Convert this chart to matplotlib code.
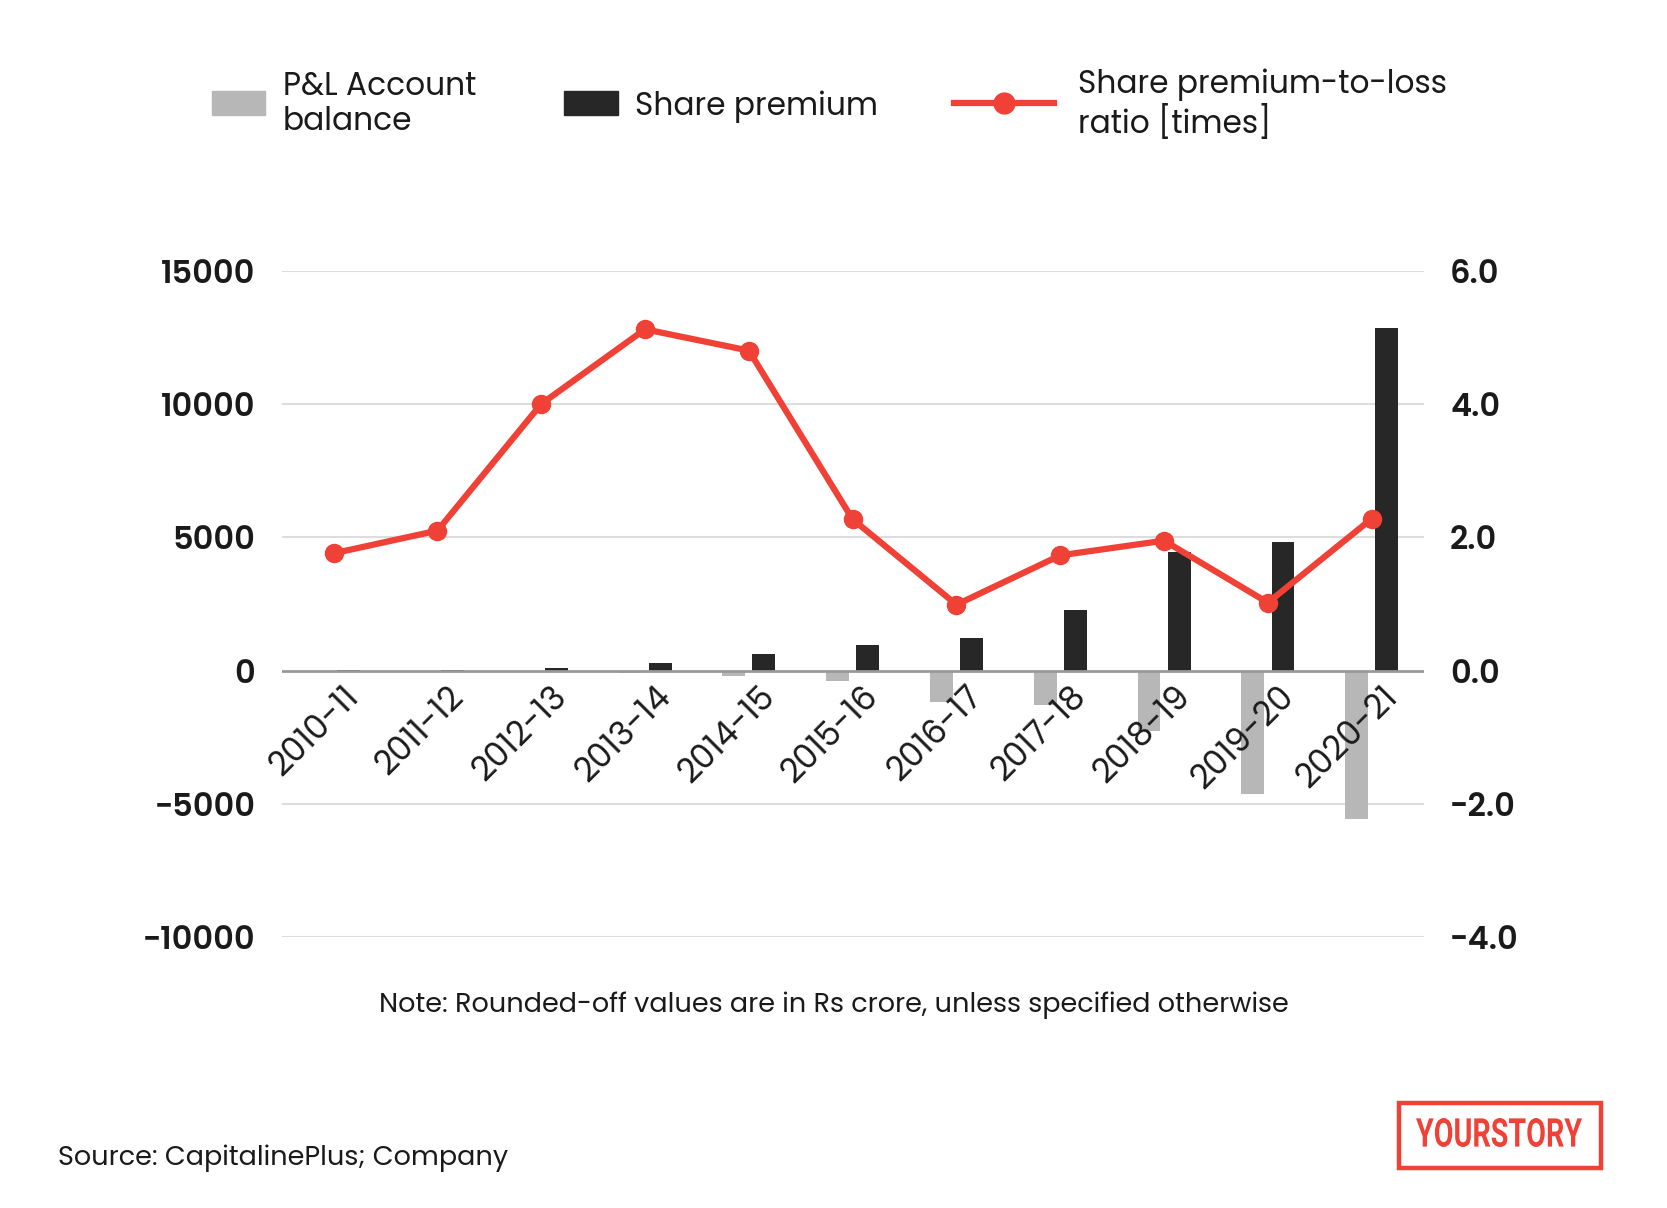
import numpy as np
import matplotlib.pyplot as plt
from matplotlib.patches import Rectangle, PathPatch
from matplotlib.lines import Line2D
from matplotlib.textpath import TextPath
from matplotlib.font_manager import FontProperties
from matplotlib.transforms import Affine2D

plt.rcParams['font.family'] = ['Poppins', 'Inter', 'DejaVu Sans']

years = ["2010-11", "2011-12", "2012-13", "2013-14", "2014-15", "2015-16",
         "2016-17", "2017-18", "2018-19", "2019-20", "2020-21"]
pl_balance = [-30, -40, -50, -100, -200, -380, -1160, -1270, -2260, -4620, -5570]
share_premium = [40, 40, 100, 280, 640, 960, 1220, 2260, 4460, 4830, 12850]
ratio = [1.76, 2.10, 4.00, 5.12, 4.80, 2.27, 0.99, 1.73, 1.95, 1.02, 2.28]

GREY = "#b7b7b7"
DARK = "#272727"
RED = "#ef4136"
TXT = "#1a1a1a"

W, H = 1667, 1208
fig = plt.figure(figsize=(W / 100, H / 100), dpi=100)
ax = fig.add_axes([0.169, 0.224, 0.685, 0.552])
ax2 = ax.twinx()

x = np.arange(len(years))
w = 0.22
ax.bar(x - 0.145, pl_balance, w, color=GREY, zorder=2)
ax.bar(x + 0.145, share_premium, w, color=DARK, zorder=2)

ax.set_ylim(-10000, 15000)
ax.set_yticks([-10000, -5000, 0, 5000, 10000, 15000])
ax.set_xlim(-0.5, len(years) - 0.5)
for t in [-10000, -5000, 5000, 10000, 15000]:
    ax.axhline(t, color="#dddddd", lw=1.5, zorder=0)
ax.axhline(0, color="#999999", lw=2, zorder=3)

ax2.plot(x, ratio, color=RED, lw=4.5, marker="o", ms=13, zorder=5)
ax2.set_ylim(-4, 6)
ax2.set_yticks([-4, -2, 0, 2, 4, 6])
ax2.set_yticklabels([f"{v:.1f}" for v in [-4, -2, 0, 2, 4, 6]])

for a in (ax, ax2):
    for s in a.spines.values():
        s.set_visible(False)
    a.tick_params(length=0, labelsize=23, labelcolor=TXT, pad=19)
for lab in ax.get_yticklabels() + ax2.get_yticklabels():
    lab.set_fontweight("semibold")

# category labels sit just under the zero line
ax.set_xticks([])
for i, yr in enumerate(years):
    ax.annotate(yr, xy=(i + 0.09, 0), xytext=(0, -7), textcoords="offset points",
                rotation=45, ha="right", va="top", rotation_mode="anchor",
                fontsize=24, color=TXT, zorder=6)

# legend, drawn by hand to match the layout
fig.add_artist(Rectangle((0.1269, 0.905), 0.0318, 0.0194, transform=fig.transFigure,
                         color=GREY))
fig.add_artist(Rectangle((0.3386, 0.905), 0.0319, 0.0194, transform=fig.transFigure,
                         color=DARK))
fig.add_artist(Line2D([0.572, 0.632], [0.9147, 0.9147], transform=fig.transFigure,
                      color=RED, lw=4.5))
fig.add_artist(Line2D([0.602], [0.9147], transform=fig.transFigure, color=RED,
                      marker="o", ms=15))
leg_kw = dict(ha="left", va="center", fontsize=22.5, color=TXT, linespacing=1.15)
fig.text(0.1697, 0.9135, "P&L Account\nbalance", **leg_kw)
fig.text(0.3807, 0.9115, "Share premium", **leg_kw)
fig.text(0.6466, 0.9135, "Share premium-to-loss\nratio [times]", **leg_kw)

fig.text(0.5, 0.1675, "Note: Rounded-off values are in Rs crore, unless specified otherwise",
         ha="center", va="center", fontsize=19.5, color=TXT)
fig.text(0.035, 0.041, "Source: CapitalinePlus; Company", ha="left", va="center",
         fontsize=19.5, color=TXT)

# YOURSTORY logo
fig.add_artist(Rectangle((1399 / W, 1 - 1168 / H), 202 / W, 65 / H,
                         transform=fig.transFigure, fill=False, ec=RED, lw=3.2))
tp = TextPath((0, 0), "YOURSTORY", size=1,
              prop=FontProperties(family=["Roboto", "DejaVu Sans"], weight="bold"))
ext = tp.get_extents()
tr = (Affine2D().translate(-ext.x0, -ext.y0)
      .scale(166 / ext.width, 29 / ext.height)
      .translate(1416, H - 1147))
fig.add_artist(PathPatch(tp, transform=tr, color=RED, lw=0))

fig.savefig("out.png", dpi=100)
